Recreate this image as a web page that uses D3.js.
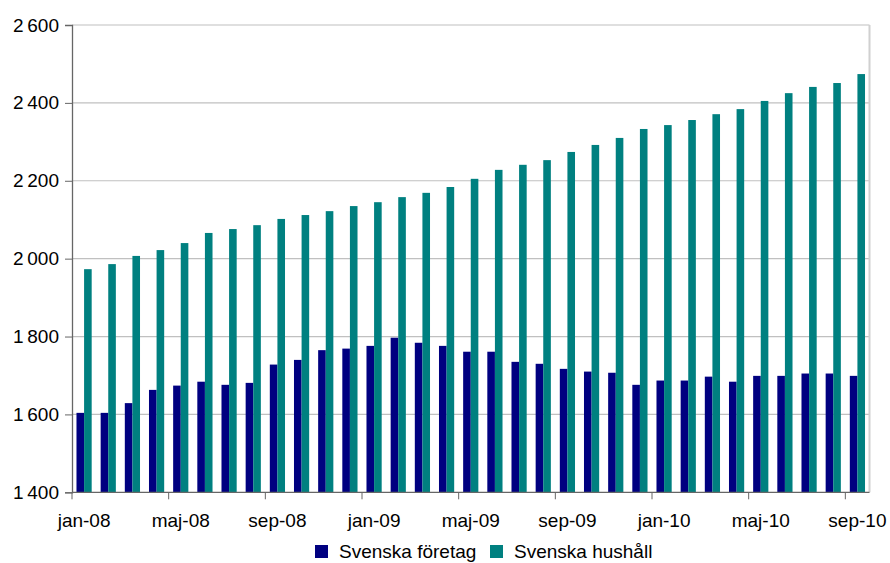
<!DOCTYPE html>
<html>
<head>
<meta charset="utf-8">
<script src="https://cdn.jsdelivr.net/npm/d3@7"></script>
<style>
  html, body { margin: 0; padding: 0; background: #fff; }
  svg { display: block; }
  text { font-family: "Liberation Sans", Arial, sans-serif; fill: #000; }
</style>
</head>
<body>
<svg id="chart" width="890" height="563"></svg>
<script>
// Monthly categories, jan-08 .. sep-10
const months = [
  "jan-08","feb-08","mar-08","apr-08","maj-08","jun-08","jul-08","aug-08","sep-08","okt-08","nov-08","dec-08",
  "jan-09","feb-09","mar-09","apr-09","maj-09","jun-09","jul-09","aug-09","sep-09","okt-09","nov-09","dec-09",
  "jan-10","feb-10","mar-10","apr-10","maj-10","jun-10","jul-10","aug-10","sep-10"
];
// Labelled months on the category axis
const tickMonths = ["jan-08","maj-08","sep-08","jan-09","maj-09","sep-09","jan-10","maj-10","sep-10"];

const seriesNames = ["Svenska företag", "Svenska hushåll"];
const seriesColors = ["#000080", "#008080"];

const foretag = [
  1604, 1604, 1629, 1663, 1674, 1684, 1676, 1681, 1728, 1740, 1765, 1769,
  1776, 1797, 1784, 1776, 1761, 1761, 1735, 1730, 1717, 1710, 1707, 1676,
  1687, 1687, 1697, 1684, 1699, 1699, 1705, 1705, 1699
];
const hushall = [
  1973, 1986, 2007, 2022, 2040, 2066, 2076, 2086, 2102, 2112, 2122, 2135,
  2145, 2158, 2169, 2184, 2205, 2228, 2241, 2253, 2274, 2292, 2310, 2333,
  2343, 2356, 2371, 2384, 2405, 2425, 2441, 2451, 2474
];
const yTicks = [1400, 1600, 1800, 2000, 2200, 2400, 2600];

const svg = d3.select("#chart");
const plot = { left: 72, right: 869.5, top: 25, bottom: 492.3 };

const x = d3.scaleBand().domain(months).range([plot.left, plot.right]).paddingInner(0).paddingOuter(0);
const xs = d3.scaleBand().domain(seriesNames).range([0, x.bandwidth()]).paddingInner(0).paddingOuter(0.59);
const y = d3.scaleLinear().domain([1400, 2600]).range([plot.bottom, plot.top]);

// Gridlines
svg.append("g")
  .selectAll("line")
  .data(yTicks.filter(t => t > 1400))
  .join("line")
  .attr("x1", plot.left).attr("x2", plot.right)
  .attr("y1", d => y(d)).attr("y2", d => y(d))
  .attr("stroke", "#c0c0c0").attr("stroke-width", 1.2);

// Right border of plot area
svg.append("line")
  .attr("x1", plot.right).attr("x2", plot.right).attr("y1", plot.top).attr("y2", plot.bottom)
  .attr("stroke", "#d0d0d0").attr("stroke-width", 2);

// Bars
const seriesData = [foretag, hushall];
seriesData.forEach((vals, si) => {
  svg.append("g")
    .attr("fill", seriesColors[si])
    .selectAll("rect")
    .data(vals)
    .join("rect")
    .attr("x", (d, i) => x(months[i]) + xs(seriesNames[si]))
    .attr("width", xs.bandwidth())
    .attr("y", d => y(d))
    .attr("height", d => y(1400) - y(d));
});

// Y axis
const yAxis = svg.append("g")
  .attr("transform", `translate(${plot.left},0)`)
  .call(d3.axisLeft(y).tickValues(yTicks).tickSize(7).tickPadding(6)
    .tickFormat(d => d3.format(",")(d).replace(",", "\u2009")));
yAxis.select(".domain").attr("stroke", "#666").attr("stroke-width", 1.3);
yAxis.selectAll(".tick line").attr("stroke", "#666");
yAxis.selectAll(".tick text").attr("font-size", 19).attr("font-family", "Liberation Sans, Arial, sans-serif").attr("fill", "#000");

// X axis: tick marks on category boundaries, labels on category centres
const xAxis = svg.append("g").attr("transform", `translate(0,${plot.bottom})`);
xAxis.append("line")
  .attr("x1", plot.left).attr("x2", plot.right).attr("y1", 0).attr("y2", 0)
  .attr("stroke", "#666").attr("stroke-width", 1.3);
xAxis.selectAll("line.tk")
  .data(tickMonths)
  .join("line")
  .attr("class", "tk")
  .attr("x1", d => x(d)).attr("x2", d => x(d))
  .attr("y1", 0).attr("y2", 7)
  .attr("stroke", "#666");
xAxis.selectAll("text")
  .data(tickMonths)
  .join("text")
  .attr("x", d => x(d) + x.bandwidth() / 2)
  .attr("y", 35)
  .attr("text-anchor", "middle")
  .attr("font-size", 19)
  .text(d => d);

// Legend
const legend = svg.append("g");
const legendX = [315, 490];
seriesNames.forEach((name, i) => {
  legend.append("rect")
    .attr("x", legendX[i]).attr("y", 545)
    .attr("width", 13).attr("height", 13)
    .attr("fill", seriesColors[i]);
  legend.append("text")
    .attr("x", legendX[i] + 24).attr("y", 558)
    .attr("font-size", 19)
    .text(name);
});
</script>
</body>
</html>
